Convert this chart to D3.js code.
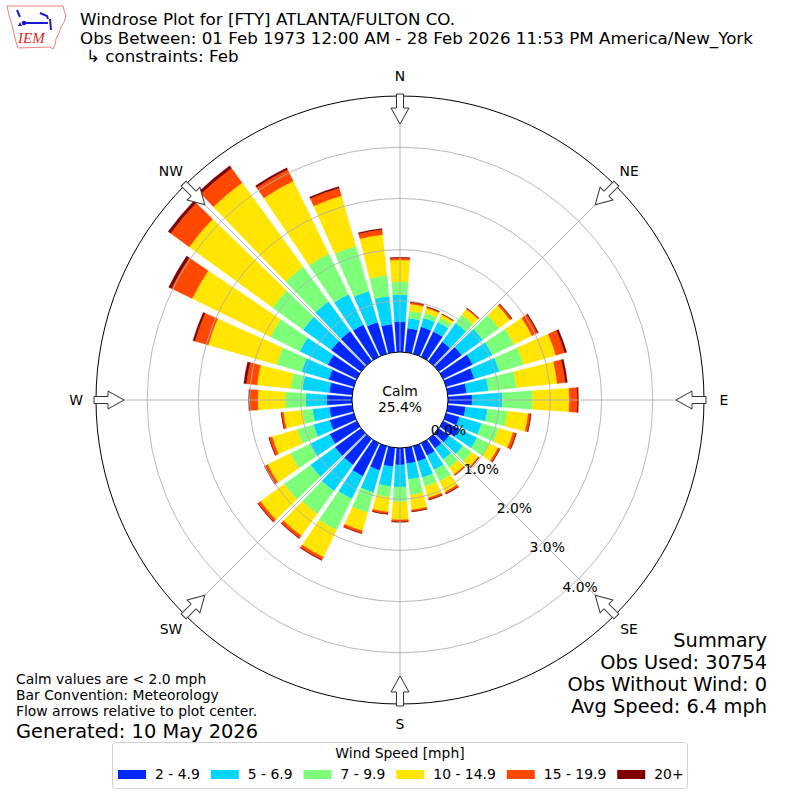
<!DOCTYPE html>
<html>
<head>
<meta charset="utf-8">
<script src="https://cdn.jsdelivr.net/npm/d3@7"></script>
<style>
  body { margin: 0; background: #fff; }
  svg { font-family: "DejaVu Sans", sans-serif; }
</style>
</head>
<body>
<svg id="chart" width="800" height="800"></svg>
<script>
// bar directions, degrees clockwise from north
const directions = d3.range(0, 360, 10);
const speedBins = ["2 - 4.9", "5 - 6.9", "7 - 9.9", "10 - 14.9", "15 - 19.9", "20+"];
const binColors = ["#0028ff", "#00d4ff", "#7dff7a", "#ffe500", "#ff4800", "#7f0000"];

// percent of all obs, per direction (0,10,...,350), one array per speed bin
const pct2to5   = [0.59,0.47,0.55,0.55,0.47,0.55,0.64,0.57,0.37,0.47,0.35,0.27,0.35,0.25,0.23,0.27,0.31,0.31,
                   0.33,0.37,0.49,0.72,0.63,0.63,0.59,0.49,0.45,0.49,0.45,0.51,0.63,0.72,0.72,0.70,0.64,0.55];
const pct5to7   = [0.53,0.20,0.18,0.20,0.45,0.51,0.43,0.51,0.43,0.59,0.43,0.45,0.39,0.33,0.27,0.31,0.33,0.31,
                   0.43,0.39,0.45,0.49,0.63,0.59,0.43,0.33,0.33,0.41,0.53,0.55,0.61,0.68,0.72,0.66,0.63,0.55];
const pct7to10  = [0.25,0.14,0.10,0.10,0.20,0.39,0.47,0.49,0.55,0.59,0.39,0.35,0.27,0.21,0.20,0.25,0.18,0.31,
                   0.29,0.21,0.41,0.68,0.55,0.64,0.43,0.33,0.20,0.41,0.23,0.51,0.64,0.74,0.84,0.88,0.92,0.41];
const pct10to15 = [0.43,0.14,0.10,0.07,0.14,0.27,0.39,0.66,0.80,0.72,0.41,0.29,0.18,0.16,0.16,0.23,0.23,0.29,
                   0.35,0.29,0.37,0.59,0.53,0.57,0.49,0.51,0.37,0.53,0.66,1.39,1.70,2.01,2.03,1.58,1.02,0.80];
const pct15to20 = [0.04,0.03,0.02,0.01,0.02,0.04,0.12,0.18,0.16,0.16,0.05,0.06,0.04,0.02,0.02,0.04,0.04,0.03,
                   0.04,0.04,0.05,0.06,0.06,0.06,0.06,0.06,0.04,0.16,0.21,0.27,0.45,0.45,0.35,0.25,0.16,0.10];
const pct20plus = [0.01,0.01,0.01,0.005,0.005,0.01,0.02,0.04,0.04,0.02,0.01,0.01,0.01,0.005,0.005,0.01,0.01,0.01,
                   0.01,0.01,0.01,0.01,0.01,0.01,0.01,0.01,0.01,0.02,0.05,0.04,0.06,0.06,0.06,0.04,0.03,0.02];
const series = [pct2to5, pct5to7, pct7to10, pct10to15, pct15to20, pct20plus];

const rTicks = [0, 1, 2, 3, 4];
const compass = ["N", "NE", "E", "SE", "S", "SW", "W", "NW"];
const calmPct = "25.4%";

const titleLines = [
  "Windrose Plot for [FTY] ATLANTA/FULTON CO.",
  "Obs Between: 01 Feb 1973 12:00 AM - 28 Feb 2026 11:53 PM America/New_York",
  "\u21b3 constraints: Feb",
];
const notes = [
  "Calm values are < 2.0 mph",
  "Bar Convention: Meteorology",
  "Flow arrows relative to plot center.",
];
const generated = "Generated: 10 May 2026";
const summary = ["Summary", "Obs Used: 30754", "Obs Without Wind: 0", "Avg Speed: 6.4 mph"];

// matplotlib point sizes at 100 dpi
const fs10 = 13.9, fs12 = 16.7, fs14 = 19.4;

const svg = d3.select("#chart");
const rad = (deg) => (deg * Math.PI) / 180;

// radial scale: 0% sits on the calm circle
const r = d3.scaleLinear().domain([0, 5]).range([48, 304]);

const plot = svg.append("g").attr("transform", "translate(400,400)");

// stack the speed bins per direction
const table = directions.map((dir, i) => {
  const row = { dir };
  speedBins.forEach((b, k) => (row[b] = series[k][i]));
  return row;
});
const stacked = d3.stack().keys(speedBins)(table);

const halfWidth = rad(4); // 80% of a 10 degree sector
const arc = d3.arc();

plot.append("g")
  .selectAll("g")
  .data(stacked)
  .join("g")
  .attr("fill", (d, k) => binColors[k])
  .attr("stroke", (d, k) => binColors[k])
  .attr("stroke-width", 0.3)
  .selectAll("path")
  .data((d) => d)
  .join("path")
  .attr("d", (d) =>
    arc({
      innerRadius: r(d[0]),
      outerRadius: r(d[1]),
      startAngle: rad(d.data.dir) - halfWidth,
      endAngle: rad(d.data.dir) + halfWidth,
    })
  );

// grid on top of the bars
const grid = plot.append("g").attr("fill", "none").attr("stroke", "#b0b0b0").attr("stroke-width", 0.9);
grid.selectAll("circle")
  .data(rTicks.slice(1))
  .join("circle")
  .attr("r", (d) => r(d));
grid.selectAll("line")
  .data(d3.range(0, 360, 45))
  .join("line")
  .attr("x1", (a) => r(0) * Math.sin(rad(a)))
  .attr("y1", (a) => -r(0) * Math.cos(rad(a)))
  .attr("x2", (a) => r(5) * Math.sin(rad(a)))
  .attr("y2", (a) => -r(5) * Math.cos(rad(a)));

// outer frame and calm circle
plot.append("circle").attr("r", r(5)).attr("fill", "none").attr("stroke", "#000").attr("stroke-width", 1);
plot.append("circle").attr("r", r(0)).attr("fill", "#fff").attr("stroke", "#000").attr("stroke-width", 1);

plot.append("text").attr("text-anchor", "middle").attr("y", -4).attr("font-size", fs10).text("Calm");
plot.append("text").attr("text-anchor", "middle").attr("y", 12).attr("font-size", fs10).text(calmPct);

// flow arrows at the compass points, pointing at the center
const arrowPts = [[0, -276], [9, -292], [3.5, -292], [3.5, -306], [-3.5, -306], [-3.5, -292], [-9, -292]];
plot.append("g")
  .selectAll("path")
  .data(compass)
  .join("path")
  .attr("d", "M" + arrowPts.join("L") + "Z")
  .attr("transform", (d, i) => `rotate(${i * 45})`)
  .attr("fill", "#fff")
  .attr("stroke", "#333")
  .attr("stroke-width", 1);

plot.append("g")
  .selectAll("text")
  .data(compass)
  .join("text")
  .attr("x", (d, i) => 324 * Math.sin(rad(i * 45)))
  .attr("y", (d, i) => -324 * Math.cos(rad(i * 45)))
  .attr("dy", "0.35em")
  .attr("text-anchor", "middle")
  .attr("font-size", fs10)
  .text((d) => d);

// radial tick labels along 140 degrees
plot.append("g")
  .selectAll("text")
  .data(rTicks)
  .join("text")
  .attr("x", (d) => r(d) * Math.sin(rad(140)))
  .attr("y", (d) => -r(d) * Math.cos(rad(140)) - 2)
  .attr("font-size", fs10)
  .text((d) => d.toFixed(1) + "%");

// titles
svg.append("g")
  .selectAll("text")
  .data(titleLines)
  .join("text")
  .attr("x", (d, i) => (i === 2 ? 86 : 80))
  .attr("y", (d, i) => 25 + i * 18.5)
  .attr("font-size", fs12)
  .text((d) => d);

// IEM logo, roughly
const logo = svg.append("g");
logo.append("path")
  .attr("d", "M7,6 L63,6 L64,10 L66,16 L64,22 L61,27 L59,33 L56,39 L55,45 L53,49 L50,47 L18,48 L16,42 L14,34 L12,25 L9,15 Z")
  .attr("fill", "none").attr("stroke", "#e88080").attr("stroke-width", 1);
logo.append("path")
  .attr("d", "M17,10 L20,17 M22,23 L48,23 M40,13 L47,16 L48,19 M50,19 L51,30")
  .attr("fill", "none").attr("stroke", "#1a1ad0").attr("stroke-width", 2);
logo.append("circle").attr("cx", 24).attr("cy", 23).attr("r", 2.3).attr("fill", "#1a1ad0");
logo.append("path").attr("d", "M18,26 L20,22 L22,26 Z").attr("fill", "#1a1ad0");
logo.append("text")
  .attr("x", 18).attr("y", 43)
  .attr("font-family", "Liberation Serif, serif")
  .attr("font-style", "italic")
  .attr("font-size", 15)
  .attr("fill", "#d42a2a")
  .text("IEM");

// notes, bottom left
svg.append("g")
  .selectAll("text")
  .data(notes)
  .join("text")
  .attr("x", 16)
  .attr("y", (d, i) => 684 + i * 16)
  .attr("font-size", fs10)
  .text((d) => d);
svg.append("text").attr("x", 16).attr("y", 738).attr("font-size", fs14).text(generated);

// summary, bottom right
svg.append("g")
  .selectAll("text")
  .data(summary)
  .join("text")
  .attr("x", 767)
  .attr("y", (d, i) => 647 + i * 22)
  .attr("text-anchor", "end")
  .attr("font-size", fs14)
  .text((d) => d);

// legend
const legend = svg.append("g");
legend.append("rect")
  .attr("x", 112.5).attr("y", 742.5).attr("width", 575).attr("height", 46).attr("rx", 3)
  .attr("fill", "#fff").attr("stroke", "#d0d0d0");
legend.append("text")
  .attr("x", 400).attr("y", 758).attr("text-anchor", "middle").attr("font-size", fs10)
  .text("Wind Speed [mph]");
let lx = 118;
speedBins.forEach((label, k) => {
  legend.append("rect").attr("x", lx).attr("y", 770).attr("width", 28).attr("height", 9).attr("fill", binColors[k]);
  const t = legend.append("text").attr("x", lx + 37).attr("y", 779).attr("font-size", fs10).text(label);
  lx += 37 + t.node().getComputedTextLength() + 11;
});
</script>
</body>
</html>
